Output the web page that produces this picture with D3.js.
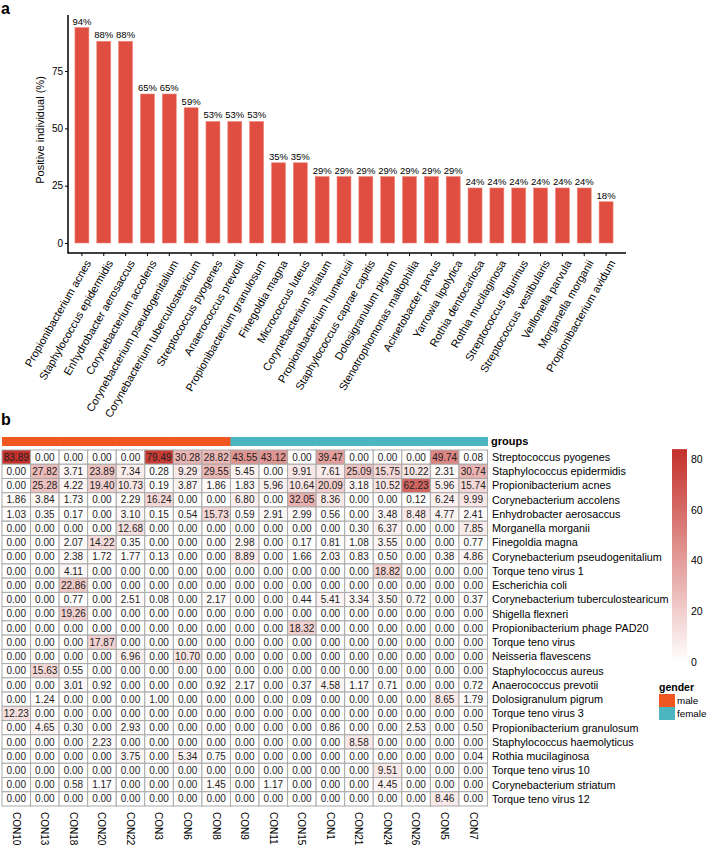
<!DOCTYPE html>
<html>
  <head>
    <style>
      body { margin: 0; background: #fff; }
      svg { font-family: "Liberation Sans", Arial, sans-serif; }
    </style>
  </head>
  <body>
    <script src="https://d3js.org/d3.v7.min.js"></script>
    <script>
      // ---- data: panel a ----
      const barSpecies = ["Propionibacterium acnes", "Staphylococcus epidermidis", "Enhydrobacter aerosaccus",
        "Corynebacterium accolens", "Corynebacterium pseudogenitalium", "Corynebacterium tuberculostearicum",
        "Streptococcus pyogenes", "Anaerococcus prevotii", "Propionibacterium granulosum", "Finegoldia magna",
        "Micrococcus luteus", "Corynebacterium striatum", "Propionibacterium humerusii", "Staphylococcus caprae capitis",
        "Dolosigranulum pigrum", "Stenotrophomonas maltophilia", "Acinetobacter parvus", "Yarrowia lipolytica",
        "Rothia dentocariosa", "Rothia mucilaginosa", "Streptococcus tigurinus", "Streptococcus vestibularis",
        "Veillonella parvula", "Morganella morganii", "Propionibacterium avidum"];
      const barPercent = [94, 88, 88, 65, 65, 59, 53, 53, 53, 35, 35, 29, 29, 29, 29, 29, 29, 29, 24, 24, 24, 24, 24, 24, 18];
      const yTicks = [0, 25, 50, 75];

      // ---- data: panel b ----
      const samples = ["CON10", "CON13", "CON18", "CON20", "CON22", "CON3", "CON6", "CON8",
        "CON9", "CON11", "CON15", "CON1", "CON21", "CON24", "CON26", "CON5", "CON7"];
      const sampleGender = ["male", "male", "male", "male", "male", "male", "male", "male",
        "female", "female", "female", "female", "female", "female", "female", "female", "female"];
      const heatSpecies = ["Streptococcus pyogenes", "Staphylococcus epidermidis", "Propionibacterium acnes",
        "Corynebacterium accolens", "Enhydrobacter aerosaccus", "Morganella morganii", "Finegoldia magna",
        "Corynebacterium pseudogenitalium", "Torque teno virus 1", "Escherichia coli",
        "Corynebacterium tuberculostearicum", "Shigella flexneri", "Propionibacterium phage PAD20",
        "Torque teno virus", "Neisseria flavescens", "Staphylococcus aureus", "Anaerococcus prevotii",
        "Dolosigranulum pigrum", "Torque teno virus 3", "Propionibacterium granulosum",
        "Staphylococcus haemolyticus", "Rothia mucilaginosa", "Torque teno virus 10",
        "Corynebacterium striatum", "Torque teno virus 12"];
      const heatValues = [
        [83.89, 0, 0, 0, 0, 79.49, 30.28, 28.82, 43.55, 43.12, 0, 39.47, 0, 0, 0, 49.74, 0.08],
        [0, 27.82, 3.71, 23.89, 7.34, 0.28, 9.29, 29.55, 5.45, 0, 9.91, 7.61, 25.09, 15.75, 10.22, 2.31, 30.74],
        [0, 25.28, 4.22, 19.40, 10.73, 0.19, 3.87, 1.86, 1.83, 5.96, 10.64, 20.09, 3.18, 10.52, 62.23, 5.96, 15.74],
        [1.86, 3.84, 1.73, 0, 2.29, 16.24, 0, 0, 6.80, 0, 32.05, 8.36, 0, 0, 0.12, 6.24, 9.99],
        [1.03, 0.35, 0.17, 0, 3.10, 0.15, 0.54, 15.73, 0.59, 2.91, 2.99, 0.56, 0, 3.48, 8.48, 4.77, 2.41],
        [0, 0, 0, 0, 12.68, 0, 0, 0, 0, 0, 0, 0, 0.30, 6.37, 0, 0, 7.85],
        [0, 0, 2.07, 14.22, 0.35, 0, 0, 0, 2.98, 0, 0.17, 0.81, 1.08, 3.55, 0, 0, 0.77],
        [0, 0, 2.38, 1.72, 1.77, 0.13, 0, 0, 8.89, 0, 1.66, 2.03, 0.83, 0.50, 0, 0.38, 4.86],
        [0, 0, 4.11, 0, 0, 0, 0, 0, 0, 0, 0, 0, 0, 18.82, 0, 0, 0],
        [0, 0, 22.86, 0, 0, 0, 0, 0, 0, 0, 0, 0, 0, 0, 0, 0, 0],
        [0, 0, 0.77, 0, 2.51, 0.08, 0, 2.17, 0, 0, 0.44, 5.41, 3.34, 3.50, 0.72, 0, 0.37],
        [0, 0, 19.26, 0, 0, 0, 0, 0, 0, 0, 0, 0, 0, 0, 0, 0, 0],
        [0, 0, 0, 0, 0, 0, 0, 0, 0, 0, 18.32, 0, 0, 0, 0, 0, 0],
        [0, 0, 0, 17.87, 0, 0, 0, 0, 0, 0, 0, 0, 0, 0, 0, 0, 0],
        [0, 0, 0, 0, 6.96, 0, 10.70, 0, 0, 0, 0, 0, 0, 0, 0, 0, 0],
        [0, 15.63, 0.55, 0, 0, 0, 0, 0, 0, 0, 0, 0, 0, 0, 0, 0, 0],
        [0, 0, 3.01, 0.92, 0, 0, 0, 0.92, 2.17, 0, 0.37, 4.58, 1.17, 0.71, 0, 0, 0.72],
        [0, 1.24, 0, 0, 0, 1.00, 0, 0, 0, 0, 0.09, 0, 0, 0, 0, 8.65, 1.79],
        [12.23, 0, 0, 0, 0, 0, 0, 0, 0, 0, 0, 0, 0, 0, 0, 0, 0],
        [0, 4.65, 0.30, 0, 2.93, 0, 0, 0, 0, 0, 0, 0.86, 0, 0, 2.53, 0, 0.50],
        [0, 0, 0, 2.23, 0, 0, 0, 0, 0, 0, 0, 0, 8.58, 0, 0, 0, 0],
        [0, 0, 0, 0, 3.75, 0, 5.34, 0.75, 0, 0, 0, 0, 0, 0, 0, 0, 0.04],
        [0, 0, 0, 0, 0, 0, 0, 0, 0, 0, 0, 0, 0, 9.51, 0, 0, 0],
        [0, 0, 0.58, 1.17, 0, 0, 0, 1.45, 0, 1.17, 0, 0, 0, 4.45, 0, 0, 0],
        [0, 0, 0, 0, 0, 0, 0, 0, 0, 0, 0, 0, 0, 0, 0, 8.46, 0]
      ];
      const colorTicks = [0, 20, 40, 60, 80];
      const genderLevels = ["male", "female"];

      const svg = d3.select("body").append("svg")
        .attr("width", 709)
        .attr("height", 846);

      // ================= panel a =================
      svg.append("text").attr("x", 1).attr("y", 14)
        .attr("font-size", 16).attr("font-weight", "bold").text("a");

      const x = d3.scaleBand().domain(barSpecies).range([71, 617])
        .paddingInner(0.36).paddingOuter(0.18);
      const y = d3.scaleLinear().domain([0, 94]).range([243, 27.5]);
      const barColor = "#df4e40";

      svg.selectAll("rect.bar")
        .data(barSpecies)
        .join("rect")
        .attr("class", "bar")
        .attr("x", d => x(d))
        .attr("width", x.bandwidth())
        .attr("y", (d, i) => y(barPercent[i]))
        .attr("height", (d, i) => y(0) - y(barPercent[i]))
        .attr("fill", barColor)
        .attr("stroke", "#ef8a7e")
        .attr("stroke-width", 0.6);

      svg.selectAll("text.pct")
        .data(barSpecies)
        .join("text")
        .attr("class", "pct")
        .attr("x", d => x(d) + x.bandwidth() / 2)
        .attr("y", (d, i) => y(barPercent[i]) - 3)
        .attr("text-anchor", "middle")
        .attr("font-size", 9.5)
        .text((d, i) => barPercent[i] + "%");

      // axes
      const yLeft = 68, yBottom = y(-4.4), yTop = y(99.5);
      const yAxis = svg.append("g")
        .attr("transform", `translate(${yLeft},0)`)
        .call(d3.axisLeft(y).tickValues(yTicks).tickSize(3).tickPadding(2));
      yAxis.select(".domain").remove();
      yAxis.selectAll("text").attr("font-size", 10).attr("fill", "#000")
        .attr("font-family", "Liberation Sans, Arial, sans-serif");
      yAxis.selectAll("line").attr("stroke", "#000");

      const xAxis = svg.append("g")
        .attr("transform", `translate(0,${yBottom})`)
        .call(d3.axisBottom(x).tickSize(3).tickFormat(""));
      xAxis.select(".domain").remove();
      xAxis.selectAll("line").attr("stroke", "#000");

      svg.append("path")
        .attr("d", `M${yLeft},${yTop} V${yBottom} H626`)
        .attr("fill", "none").attr("stroke", "#000").attr("stroke-width", 1.5);

      svg.selectAll("text.xlab")
        .data(barSpecies)
        .join("text")
        .attr("class", "xlab")
        .attr("transform", d => `translate(${x(d) + x.bandwidth() / 2 + 3},${yBottom + 6}) rotate(-60)`)
        .attr("text-anchor", "end")
        .attr("dy", "0.7em")
        .attr("font-size", 11)
        .text(d => d);

      svg.append("text")
        .attr("transform", "translate(44,130) rotate(-90)")
        .attr("text-anchor", "middle")
        .attr("font-size", 11)
        .text("Positive individual (%)");

      // ================= panel b =================
      svg.append("text").attr("x", 1).attr("y", 425)
        .attr("font-size", 16).attr("font-weight", "bold").text("b");

      const cx = d3.scaleBand().domain(samples).range([2, 487.5]);
      const cyRow = d3.scaleBand().domain(heatSpecies).range([450, 806]);
      const maxVal = d3.max(heatValues.flat());
      const color = d3.scaleLinear().domain([0, maxVal]).range(["#ffffff", "#c4302a"]);
      const genderColor = d3.scaleOrdinal().domain(genderLevels).range(["#f0561f", "#4bb6bf"]);

      // annotation bar
      svg.selectAll("rect.grp")
        .data(samples)
        .join("rect")
        .attr("class", "grp")
        .attr("x", d => cx(d))
        .attr("width", cx.bandwidth() + 0.5)
        .attr("y", 437)
        .attr("height", 9)
        .attr("fill", (d, i) => genderColor(sampleGender[i]));
      svg.append("text").attr("x", 491).attr("y", 445)
        .attr("font-size", 11).attr("font-weight", "bold").text("groups");

      const rows = svg.selectAll("g.hrow")
        .data(heatValues)
        .join("g")
        .attr("class", "hrow")
        .attr("transform", (d, i) => `translate(0,${cyRow(heatSpecies[i])})`);

      rows.selectAll("rect")
        .data(d => d)
        .join("rect")
        .attr("x", (d, j) => cx(samples[j]))
        .attr("width", cx.bandwidth())
        .attr("height", cyRow.bandwidth())
        .attr("fill", d => color(d))
        .attr("stroke", "#a9a9a9")
        .attr("stroke-width", 1);

      rows.selectAll("text")
        .data(d => d)
        .join("text")
        .attr("x", (d, j) => cx(samples[j]) + cx.bandwidth() / 2)
        .attr("y", cyRow.bandwidth() / 2)
        .attr("dy", "0.36em")
        .attr("text-anchor", "middle")
        .attr("font-size", 10)
        .attr("fill", "#222")
        .text(d => d.toFixed(2));

      svg.selectAll("text.rlab")
        .data(heatSpecies)
        .join("text")
        .attr("class", "rlab")
        .attr("x", 492)
        .attr("y", d => cyRow(d) + cyRow.bandwidth() / 2)
        .attr("dy", "0.36em")
        .attr("font-size", 10.8)
        .text(d => d);

      svg.selectAll("text.clab")
        .data(samples)
        .join("text")
        .attr("class", "clab")
        .attr("transform", d => `translate(${cx(d) + cx.bandwidth() / 2},812) rotate(90)`)
        .attr("dy", "0.36em")
        .attr("font-size", 10)
        .text(d => d);

      // colour legend
      const ly = d3.scaleLinear().domain([0, 80]).range([662, 459]);
      const lTop = ly(maxVal), lBot = 667;
      const grad = svg.append("defs").append("linearGradient")
        .attr("id", "heatGrad").attr("x1", 0).attr("x2", 0).attr("y1", 0).attr("y2", 1);
      d3.range(0, 11).forEach(k => {
        const v = maxVal * (1 - k / 10);
        grad.append("stop")
          .attr("offset", (ly(v) - lTop) / (lBot - lTop))
          .attr("stop-color", color(v));
      });
      grad.append("stop").attr("offset", 1).attr("stop-color", "#ffffff");
      svg.append("rect")
        .attr("x", 672).attr("y", lTop)
        .attr("width", 15).attr("height", lBot - lTop)
        .attr("fill", "url(#heatGrad)");
      svg.selectAll("text.ctick")
        .data(colorTicks)
        .join("text")
        .attr("class", "ctick")
        .attr("x", 691)
        .attr("y", d => ly(d))
        .attr("dy", "0.36em")
        .attr("font-size", 10.5)
        .text(d => d);

      // gender legend
      svg.append("text").attr("x", 659).attr("y", 691)
        .attr("font-size", 10.5).attr("font-weight", "bold").text("gender");
      genderLevels.forEach((g, i) => {
        svg.append("rect")
          .attr("x", 659).attr("y", 694 + i * 13)
          .attr("width", 16).attr("height", 13)
          .attr("fill", genderColor(g));
        svg.append("text")
          .attr("x", 677).attr("y", 694 + i * 13 + 6.5)
          .attr("dy", "0.36em")
          .attr("font-size", 9.8)
          .text(g);
      });
    </script>
  </body>
</html>
